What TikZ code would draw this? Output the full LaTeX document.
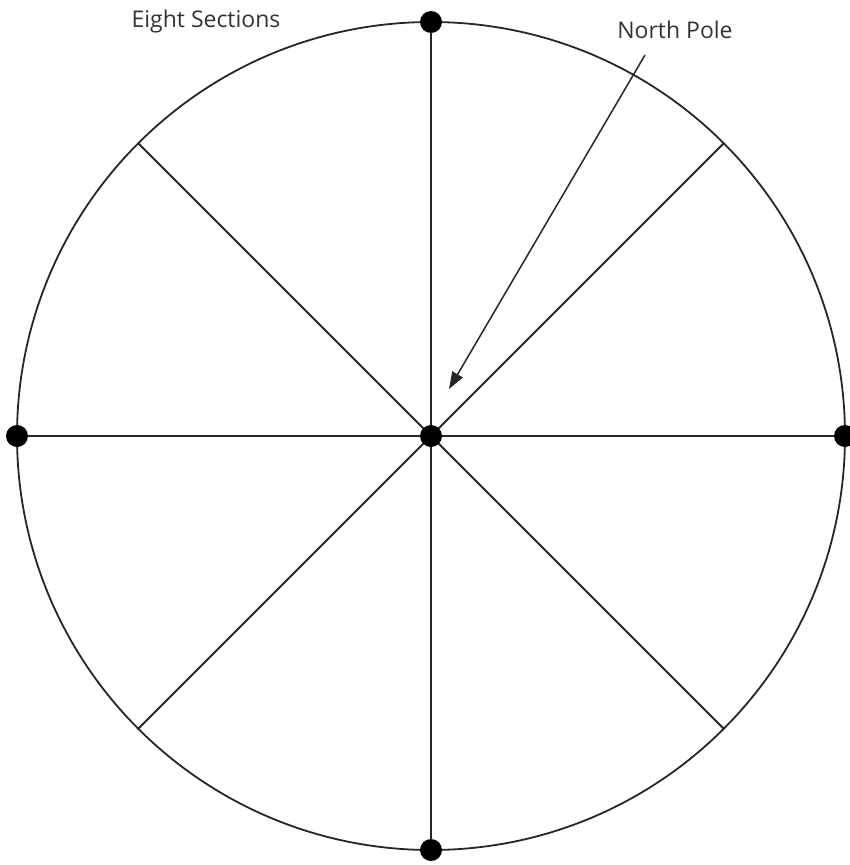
\documentclass[tikz,border=0pt]{standalone}
\usepackage{fontspec}
\setmainfont{Open Sans}
\usetikzlibrary{arrows.meta,calc,backgrounds}
\begin{document}
\begin{tikzpicture}[x=1pt,y=-1pt,
  line/.style={line width=1.8pt,draw=black!85},
  dot/.style={circle,fill=black,inner sep=0pt,minimum size=22pt},
  lbl/.style={font=\fontsize{23}{27}\selectfont,text=black!80,inner sep=0pt},
  pointer/.style={line width=1.5pt,draw=black!85,-{Triangle[length=17pt,width=12pt]}}]
\useasboundingbox (0,0) rectangle (850,865);
\coordinate (o) at (431,436);
\def\R{414}
\node[dot] (c) at (o) {};
\node[dot] (t) at ($(o)+(0,-\R)$) {};
\node[dot] (b) at ($(o)+(0,\R)$) {};
\node[dot] (l) at ($(o)+(-\R,0)$) {};
\node[dot] (r) at ($(o)+(\R,0)$) {};
\coordinate (d1) at ($(o)+(45:\R)$);
\coordinate (d2) at ($(o)+(135:\R)$);
\coordinate (d3) at ($(o)+(225:\R)$);
\coordinate (d4) at ($(o)+(315:\R)$);
\begin{scope}[on background layer]
\draw[line] (c.center) circle (\R);
\draw[line] (t.center) -- (b.center);
\draw[line] (l.center) -- (r.center);
\draw[line] (d1) -- (d3);
\draw[line] (d2) -- (d4);
\end{scope}
\node[lbl] (es) at (206,22) {Eight Sections};
\node[lbl] (np) at (675,30) {North Pole};
\coordinate (as) at (645,55);
\coordinate (ae) at (449,389);
\draw[pointer] (as) -- (ae);
\end{tikzpicture}
\end{document}
